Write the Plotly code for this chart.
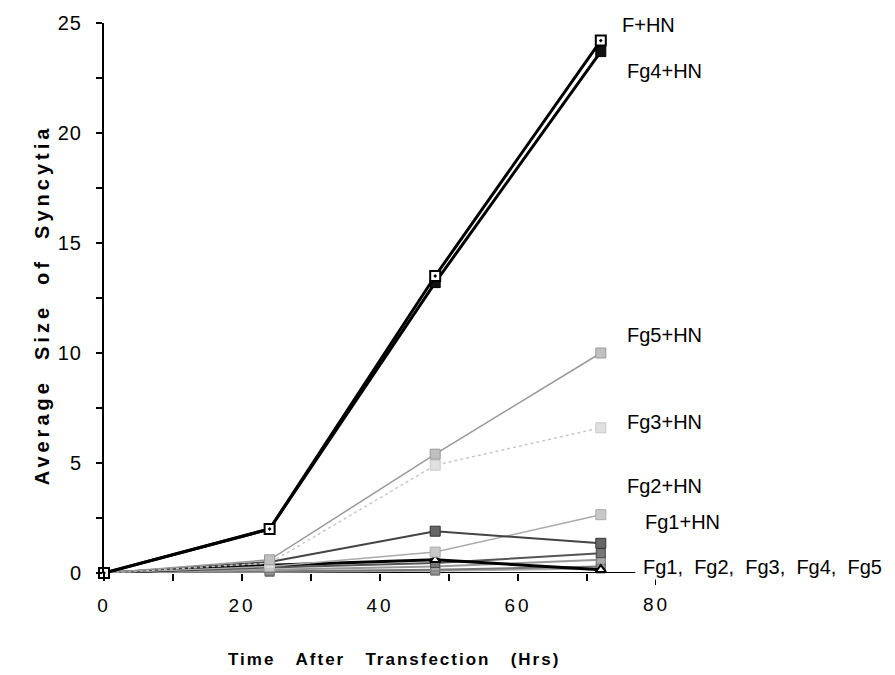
import plotly.graph_objects as go

hours = [0, 24, 48, 72]

f_hn = [0, 2.0, 13.5, 24.2]
fg4_hn = [0, 2.0, 13.2, 23.7]
fg5_hn = [0, 0.6, 5.4, 10.0]
fg3_hn = [0, 0.45, 4.9, 6.6]
fg2_hn = [0, 0.3, 0.95, 2.65]
fg1_hn = [0, 0.5, 1.9, 1.35]
fg1 = [0, 0.35, 0.6, 0.15]
fg2 = [0, 0.25, 0.45, 0.9]
fg3 = [0, 0.15, 0.3, 0.6]
fg4 = [0, 0.08, 0.15, 0.3]
fg5 = [0, 0.05, 0.1, 0.2]

label_texts = ["F+HN", "Fg4+HN", "Fg5+HN", "Fg3+HN", "Fg2+HN", "Fg1+HN",
               "Fg1, Fg2, Fg3, Fg4, Fg5"]
label_x = [74.8, 75.5, 75.5, 75.5, 75.5, 78.1, 77.8]
label_y = [24.9, 22.8, 10.8, 6.85, 3.95, 2.3, 0.27]

x_tick_vals = [0, 10, 20, 30, 40, 50, 60, 70]
x_tick_text = ["0", "", "20", "", "40", "", "60", ""]
y_tick_vals = [0, 2.5, 5, 7.5, 10, 12.5, 15, 17.5, 20, 22.5, 25]
y_tick_text = ["0", "", "5", "", "10", "", "15", "", "20", "", "25"]

x_title = "Time After Transfection (Hrs)"
y_title = "Average Size of Syncytia"

FONT = "Liberation Sans, Arial"


def ls(t, px):
    return '<span style="letter-spacing:%dpx">%s</span>' % (px, t)


fig = go.Figure()


def add(y, color, width, dash, msym, msize, mcolor, mline, mlw=1):
    fig.add_trace(go.Scatter(
        x=hours, y=y, mode="lines+markers",
        line=dict(color=color, width=width, dash=dash),
        marker=dict(symbol=msym, size=msize, color=mcolor,
                    line=dict(color=mline, width=mlw)),
        cliponaxis=False, showlegend=False))


# low-level controls (no HN)
add(fg5, "#aaaaaa", 2, "solid", "square", 9, "#bbbbbb", "#888888")
add(fg4, "#777777", 2, "solid", "square", 9, "#999999", "#666666")
add(fg3, "#999999", 2, "solid", "square", 9, "#aaaaaa", "#777777")
add(fg2, "#555555", 2, "solid", "square", 9, "#777777", "#444444")
add(fg1, "#000000", 3, "solid", "triangle-up", 9, "#ffffff", "#000000", 2)
# HN combinations
add(fg2_hn, "#aaaaaa", 1.5, "solid", "square", 10, "#c8c8c8", "#aaaaaa")
add(fg1_hn, "#444444", 2, "solid", "square", 10, "#666666", "#333333")
add(fg3_hn, "#c8c8c8", 1.5, "dot", "square", 10, "#e0e0e0", "#c8c8c8")
add(fg5_hn, "#9a9a9a", 1.5, "solid", "square", 10, "#c0c0c0", "#999999")
add(fg4_hn, "#000000", 3, "solid", "square", 10, "#111111", "#000000")
add(f_hn, "#000000", 3, "solid", "square-dot", 10, "#ffffff", "#000000", 2)

for t, lx, ly in zip(label_texts, label_x, label_y):
    fig.add_annotation(x=lx, y=ly, xref="x", yref="y",
                       text=t.replace(" ", "\u00a0\u00a0"),
                       showarrow=False, xanchor="left", yanchor="middle",
                       font=dict(family=FONT, size=20, color="#000000"))

# tick label at 80 beyond the axis line
fig.add_annotation(x=80, y=0, xref="x", yref="y", text=ls("80", 3), showarrow=False,
                   yshift=-31, xanchor="center", yanchor="middle",
                   font=dict(family=FONT, size=19, color="#000000"))
fig.add_shape(type="line", xref="x", yref="paper", x0=80, x1=80, y0=-0.012, y1=-0.022,
              line=dict(color="black", width=2))
# x axis line up to ~77
fig.add_shape(type="line", xref="x", yref="y", x0=0, x1=77, y0=0, y1=0,
              line=dict(color="black", width=2), layer="below")

# axis titles
fig.add_annotation(x=0.525, y=-0.158, xref="paper", yref="paper",
                   text="<b>" + ls(x_title.replace(" ", "\u00a0\u00a0\u00a0"), 2) + "</b>",
                   showarrow=False, xanchor="center", yanchor="middle",
                   font=dict(family=FONT, size=17, color="black"))
fig.add_annotation(x=-0.112, y=0.487, xref="paper", yref="paper",
                   text="<b>" + ls(y_title.replace(" ", "\u00a0\u00a0"), 4) + "</b>",
                   textangle=-90,
                   showarrow=False, xanchor="center", yanchor="middle",
                   font=dict(family=FONT, size=20, color="black"))

fig.update_layout(
    width=895, height=675,
    margin=dict(l=104, r=239, t=23, b=102),
    paper_bgcolor="white", plot_bgcolor="white",
    font=dict(family=FONT, size=19, color="black"),
    xaxis=dict(range=[0, 80], tickvals=x_tick_vals,
               ticktext=[ls(t, 3) if t else "" for t in x_tick_text],
               ticks="outside", ticklen=7, tickwidth=2, tickcolor="black",
               showline=False, showgrid=False, zeroline=False,
               ticklabelstandoff=8),
    yaxis=dict(range=[0, 25], tickvals=y_tick_vals,
               ticktext=[ls(t, 1) if t else "" for t in y_tick_text],
               tickfont=dict(size=20),
               ticks="outside", ticklen=6, tickwidth=2, tickcolor="black",
               showline=True, linecolor="black", linewidth=2,
               showgrid=False, zeroline=False, ticklabelstandoff=10),
)

fig.write_html("out.html")
